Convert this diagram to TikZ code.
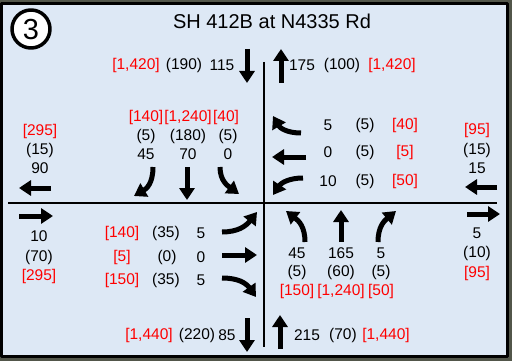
\documentclass[tikz,border=0pt]{standalone}
\usepackage{fontspec}
\setmainfont{Liberation Sans}
\usetikzlibrary{arrows.meta}
\definecolor{panelblue}{RGB}{221,232,245}
\definecolor{photo}{RGB}{82,86,74}
\begin{document}
\begin{tikzpicture}[x=1pt,y=-1pt,line join=round,
	num/.style={font=\fontsize{15.5}{18}\selectfont,inner sep=0pt},
	vol/.style={num,text=red},
	mv/.style={line width=5pt,-{Triangle[length=12pt,width=15pt]}}]
	\useasboundingbox (0,0) rectangle (512,361);
	%Khung
	\fill[photo] (0,0) rectangle (512,361);
	\draw[line width=3pt,fill=panelblue] (1.5,4) rectangle (507,356);
	\draw[line width=3.5pt,fill=white] (31,29) circle (19);
	\node[inner sep=0pt,font=\fontsize{29}{32}\selectfont] (so) at (31,29.5) {3};
	\node[inner sep=0pt,font=\fontsize{20}{24}\selectfont] (tieude) at (272,21) {SH 412B at N4335 Rd};
	%Hai truc duong
	\path (264,62) coordinate (D1) (264,347) coordinate (D2)
	(8,203) coordinate (N1) (497,203) coordinate (N2);
	\draw[line width=2pt] (D1)--(D2);
	\draw[line width=2pt] (N1)--(N2);
	%Phia bac
	\node[vol] (b1) at (136,65) {[1,420]};
	\node[num] (b2) at (184,65) {(190)};
	\node[num] (b3) at (222,65) {115};
	\draw[mv] (247,49)--(247,83);
	\draw[mv] (281,83)--(281,49);
	\node[num] (b4) at (302,65) {175};
	\node[num] (b5) at (342,65) {(100)};
	\node[vol] (b6) at (392,65) {[1,420]};
	%Phia tay
	\node[vol] (t1) at (40,131) {[295]};
	\node[num] (t2) at (40,150) {(15)};
	\node[num] (t3) at (40,168) {90};
	\draw[mv] (51,188)--(19,188);
	\draw[mv] (19,216)--(53,216);
	\node[num] (t4) at (39,236) {10};
	\node[num] (t5) at (39,257) {(70)};
	\node[vol] (t6) at (39,276) {[295]};
	%Huong nam
	\node[vol] (s1) at (146,117) {[140]};
	\node[vol] (s2) at (188,117) {[1,240]};
	\node[vol] (s3) at (226,117) {[40]};
	\node[num] (s4) at (146,136) {(5)};
	\node[num] (s5) at (188,136) {(180)};
	\node[num] (s6) at (228,136) {(5)};
	\node[num] (s7) at (146,154) {45};
	\node[num] (s8) at (188,154) {70};
	\node[num] (s9) at (228,154) {0};
	\draw[mv] (153,167) .. controls (153,184) and (146,189) .. (134,196);
	\draw[mv] (187,167)--(187,200);
	\draw[mv] (220,167) .. controls (220,181) and (228,186) .. (239,194);
	%Huong tay
	\draw[mv] (301,133) .. controls (287,133) and (280,128) .. (273,116);
	\draw[mv] (306,157)--(272,157);
	\draw[mv] (303,178) .. controls (289,178) and (281,183) .. (273,195);
	\node[num] (w1) at (328,125) {5};
	\node[num] (w2) at (365,125) {(5)};
	\node[vol] (w3) at (405,125) {[40]};
	\node[num] (w4) at (328,152) {0};
	\node[num] (w5) at (365,152) {(5)};
	\node[vol] (w6) at (405,152) {[5]};
	\node[num] (w7) at (328,181) {10};
	\node[num] (w8) at (365,181) {(5)};
	\node[vol] (w9) at (405,181) {[50]};
	%Phia dong
	\node[vol] (d1) at (477,130) {[95]};
	\node[num] (d2) at (477,150) {(15)};
	\node[num] (d3) at (477,168) {15};
	\draw[mv] (497,187)--(465,187);
	\draw[mv] (467,214)--(500,214);
	\node[num] (d4) at (477,233) {5};
	\node[num] (d5) at (477,253) {(10)};
	\node[vol] (d6) at (477,273) {[95]};
	%Huong dong
	\node[vol] (e1) at (122,233) {[140]};
	\node[num] (e2) at (166,233) {(35)};
	\node[num] (e3) at (201,233) {5};
	\node[vol] (e4) at (122,257) {[5]};
	\node[num] (e5) at (167,257) {(0)};
	\node[num] (e6) at (201,257) {0};
	\node[vol] (e7) at (122,280) {[150]};
	\node[num] (e8) at (166,280) {(35)};
	\node[num] (e9) at (201,280) {5};
	\draw[mv] (222,232) .. controls (238,232) and (246,226) .. (257,212);
	\draw[mv] (222,255)--(257,255);
	\draw[mv] (222,278) .. controls (238,278) and (246,283) .. (256,297);
	%Huong bac
	\draw[mv] (305,242) .. controls (305,227) and (299,221) .. (286,211);
	\draw[mv] (341,242)--(341,210);
	\draw[mv] (378,242) .. controls (378,227) and (384,221) .. (396,211);
	\node[num] (n1) at (297,253) {45};
	\node[num] (n2) at (341,253) {165};
	\node[num] (n3) at (381,253) {5};
	\node[num] (n4) at (297,272) {(5)};
	\node[num] (n5) at (341,272) {(60)};
	\node[num] (n6) at (381,272) {(5)};
	\node[vol] (n7) at (297,291) {[150]};
	\node[vol] (n8) at (341,291) {[1,240]};
	\node[vol] (n9) at (381,291) {[50]};
	%Phia nam
	\node[vol] (m1) at (149,335) {[1,440]};
	\node[num] (m2) at (197,335) {(220)};
	\node[num] (m3) at (227,335) {85};
	\draw[mv] (247,318)--(247,352);
	\draw[mv] (280,349)--(280,315);
	\node[num] (m4) at (307,335) {215};
	\node[num] (m5) at (343,335) {(70)};
	\node[vol] (m6) at (386,335) {[1,440]};
\end{tikzpicture}
\end{document}
